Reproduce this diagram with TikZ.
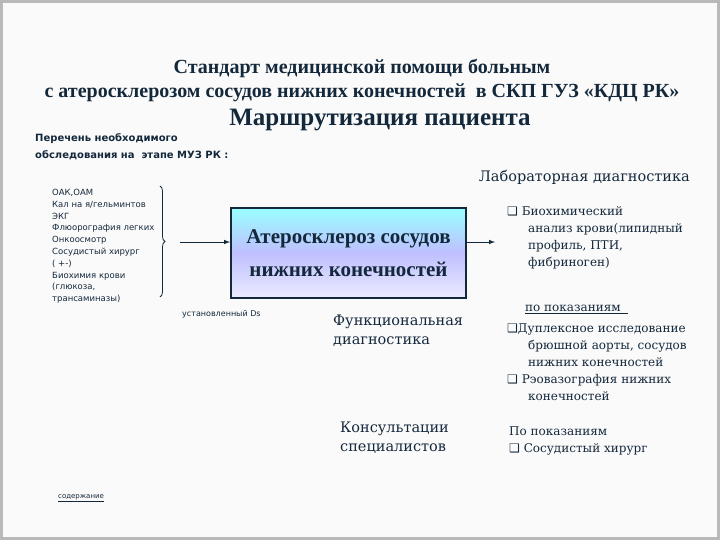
\documentclass[tikz,border=0pt]{standalone}
\usepackage{fontspec}
\setmainfont{Liberation Serif}
\newfontfamily\sans{DejaVu Sans}
\newfontfamily\dser{DejaVu Serif}
\usetikzlibrary{decorations.pathreplacing}
\definecolor{ink}{RGB}{20,40,60}
\begin{document}
\begin{tikzpicture}[x=1pt,y=-1pt,font=\color{ink},
  sm/.style={font=\sans\fontsize{8.5}{11.8}\selectfont\color{ink},align=left,inner sep=0pt},
  rt/.style={font=\dser\fontsize{12}{17}\selectfont\color{ink},align=left,inner sep=0pt},
  big/.style={font=\dser\fontsize{14.5}{19}\selectfont\color{ink},align=left,inner sep=0pt},
  arr/.style={-latex,draw=ink,line width=1pt}]
\fill[gray!55] (0,0) rectangle (720,540);
\fill[white!96!gray] (3,3) rectangle (717,537);
\useasboundingbox (0,0) rectangle (720,540);
\node[font=\bfseries\fontsize{20}{24}\selectfont\color{ink},align=center] (t) at (362,81) {Стандарт медицинской помощи больным\\с атеросклерозом сосудов нижних конечностей \ в СКП ГУЗ «КДЦ РК»};
\node[font=\bfseries\fontsize{25}{28}\selectfont\color{ink}] (m) at (380,120) {Маршрутизация пациента};
\node[sm,anchor=north west,font=\sans\bfseries\fontsize{10}{17}\selectfont\color{ink}] (p) at (35,133) {Перечень необходимого\\ обследования на \ этапе МУЗ РК :};
\node[big,anchor=east] (lab) at (690,177) {Лабораторная диагностика};
\node[sm,anchor=north west] (list) at (52,189) {ОАК,ОАМ\\Кал на я/гельминтов\\ЭКГ\\Флюорография легких\\Онкоосмотр\\Сосудистый хирург\\( +-)\\Биохимия крови\\(глюкоза,\\трансаминазы)};
\draw[ink,line width=0.8pt,decorate,decoration={brace,amplitude=5pt}] (160,186) -- (160,297);
\node[draw=ink,line width=2pt,minimum width=235pt,minimum height=90pt,anchor=north west,
  shade,top color=cyan!40!white,bottom color=blue!8!white,middle color=blue!25!white,
  font=\bfseries\fontsize{21}{33}\selectfont\color{ink},align=center] (dx) at (230,207) {Атеросклероз сосудов\\нижних конечностей};
\coordinate (a1) at (180,242);
\draw[arr] (a1) -- (dx.west|-a1);
\coordinate (a2) at (495,242);
\draw[arr] (dx.east|-a2) -- (a2);
\node[sm,anchor=west,font=\sans\fontsize{8}{9}\selectfont\color{ink}] (ds) at (182,314) {установленный Ds};
\node[rt,anchor=north west] (bio) at (507,206) {{\sans ❑}\ Биохимический\\\hspace{21pt}анализ крови(липидный\\\hspace{21pt}профиль, ПТИ,\\\hspace{21pt}фибриноген)};
\node[big,anchor=north west] (fd) at (333,315) {Функциональная\\диагностика};
\node[rt,anchor=north west] (ind) at (525,305) {\underline{по показаниям\ \ }};
\node[rt,anchor=north west] (dup) at (507,324) {{\sans ❑}Дуплексное исследование\\\hspace{21pt}брюшной аорты, сосудов\\\hspace{21pt}нижних конечностей\\{\sans ❑}\ Рэовазография нижних\\\hspace{21pt}конечностей};
\node[big,anchor=north west] (ks) at (340,422) {Консультации\\специалистов};
\node[rt,anchor=north west] (po) at (509,427) {По показаниям\\{\sans ❑}\ Сосудистый хирург};
\node[sm,anchor=west,font=\sans\fontsize{7}{8}\selectfont\color{ink}] (sod) at (58,498) {\underline{содержание}};
\end{tikzpicture}
\end{document}
